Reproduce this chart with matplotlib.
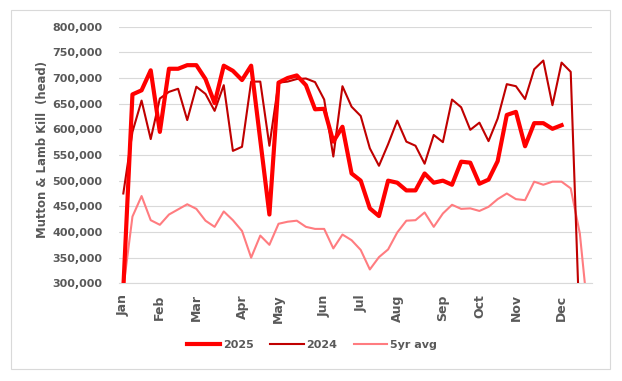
import matplotlib
matplotlib.use("Agg")
import matplotlib.pyplot as plt
from matplotlib.patches import Rectangle

weeks = list(range(52))
month_labels = ["Jan", "Feb", "Mar", "Apr", "May", "Jun", "Jul", "Aug", "Sep", "Oct", "Nov", "Dec"]
month_weeks = [0, 4, 8, 13, 17, 22, 26, 30, 35, 39, 43, 48]

kill_2025 = [290000, 668000, 676000, 715000, 595000, 718000, 718000, 725000, 725000, 698000,
             651000, 724000, 714000, 696000, 724000, 579000, 434000, 691000, 700000, 705000,
             686000, 639000, 640000, 576000, 605000, 514000, 500000, 446000, 431000, 500000,
             496000, 481000, 481000, 514000, 496000, 500000, 492000, 537000, 535000, 494000,
             502000, 538000, 628000, 634000, 567000, 612000, 612000, 601000, 608000]

kill_2024 = [475000, 595000, 656000, 581000, 660000, 673000, 679000, 618000, 683000, 669000,
             636000, 686000, 558000, 566000, 693000, 693000, 568000, 691000, 693000, 698000,
             699000, 692000, 658000, 547000, 684000, 644000, 626000, 563000, 529000, 571000,
             617000, 576000, 568000, 533000, 589000, 575000, 658000, 643000, 599000, 613000,
             577000, 621000, 688000, 684000, 659000, 717000, 734000, 647000, 730000, 712000,
             200000]

kill_5yr = [290000, 430000, 470000, 423000, 414000, 434000, 444000, 454000, 445000, 422000,
            410000, 440000, 423000, 402000, 350000, 393000, 375000, 416000, 420000, 422000,
            410000, 406000, 406000, 368000, 395000, 384000, 365000, 327000, 351000, 366000,
            399000, 422000, 423000, 438000, 410000, 436000, 453000, 445000, 446000, 441000,
            449000, 464000, 475000, 464000, 462000, 498000, 492000, 498000, 498000, 485000,
            397000, 220000]

yticks = list(range(300000, 800001, 50000))

TXT = "#595959"
FONT = "DejaVu Sans"

fig = plt.figure(figsize=(6.22, 3.81), dpi=100)
fig.patch.set_facecolor("white")
fig.patches.append(Rectangle((10.5 / 622, 1 - 369 / 381), 599.5 / 622, 359.5 / 381,
                             transform=fig.transFigure, fill=False,
                             edgecolor="#D9D9D9", linewidth=0.8))

ax = fig.add_axes([0.1918, 0.2564, 0.7595, 0.6736])
ax.set_facecolor("white")

ax.plot(weeks[:len(kill_5yr)], kill_5yr, color="#FF7C80", linewidth=1.5, label="5yr avg", zorder=2)
ax.plot(weeks[:len(kill_2024)], kill_2024, color="#C00000", linewidth=1.5, label="2024", zorder=3)
ax.plot(weeks[:len(kill_2025)], kill_2025, color="#FF0000", linewidth=3.0, label="2025", zorder=4,
        solid_joinstyle="round")

ax.set_ylim(300000, 800000)
ax.set_xlim(-0.44, 51.3)
ax.set_yticks(yticks)
ax.set_yticklabels([f"{v:,}" for v in yticks], fontsize=8, fontweight="bold", color=TXT, family=FONT)
ax.set_xticks(month_weeks)
ax.set_xticklabels(month_labels, rotation=90, fontsize=9, fontweight="bold", color=TXT, family=FONT)
ax.tick_params(axis="both", length=0)
ax.tick_params(axis="y", pad=12)
ax.tick_params(axis="x", pad=8)
ax.grid(axis="y", color="#D9D9D9", linewidth=0.8)
ax.set_axisbelow(True)
for s in ["top", "right", "left"]:
    ax.spines[s].set_visible(False)
ax.spines["bottom"].set_color("#D9D9D9")
ax.spines["bottom"].set_linewidth(0.8)

ax.set_ylabel("Mutton & Lamb Kill  (head)", fontsize=8.4, fontweight="bold", color=TXT, family=FONT)
ax.yaxis.set_label_coords(-0.1636, 0.5195)
ax.yaxis.label.set_verticalalignment("center")

handles, labels = ax.get_legend_handles_labels()
order = [2, 1, 0]
leg = fig.legend([handles[i] for i in order], [labels[i] for i in order],
                 loc="center", bbox_to_anchor=(312 / 622, 1 - 345 / 381), ncol=3, frameon=False,
                 prop={"family": FONT, "weight": "bold", "size": 8},
                 handlelength=3.0, handletextpad=0.27, columnspacing=1.45)
for t in leg.get_texts():
    t.set_color(TXT)

fig.savefig("out.png", dpi=100, facecolor="white")
